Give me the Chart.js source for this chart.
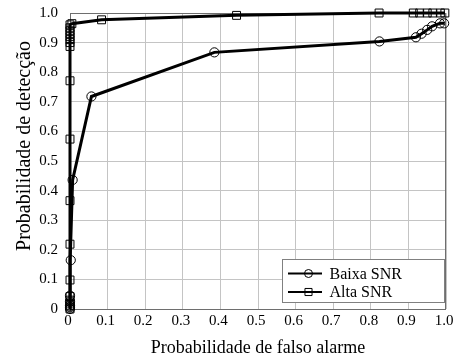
<!DOCTYPE html>
<html>
<head>
<meta charset="utf-8">
<script src="https://cdn.jsdelivr.net/npm/chart.js@4.4.0/dist/chart.umd.min.js"></script>
<style>
html,body{margin:0;padding:0;background:#fff;}
#wrap{width:456px;height:357px;}
</style>
</head>
<body>
<div id="wrap"><canvas id="c" width="456" height="357"></canvas></div>
<script>
const seriesNames = ["Baixa SNR", "Alta SNR"];
const baixaX = [0, 0, 0, 0, 0, 0.002, 0.007, 0.057, 0.384, 0.823, 0.92, 0.935, 0.95, 0.963, 0.984, 0.995];
const baixaY = [0, 0.006, 0.012, 0.025, 0.045, 0.165, 0.436, 0.718, 0.867, 0.904, 0.918, 0.93, 0.943, 0.955, 0.965, 0.965];
const altaX = [0, 0, 0, 0, 0, 0, 0, 0, 0, 0, 0, 0, 0, 0, 0, 0, 0, 0, 0.005, 0.084, 0.443, 0.822, 0.913, 0.93, 0.95, 0.965, 0.985, 0.997];
const altaY = [0, 0.01, 0.02, 0.03, 0.042, 0.098, 0.219, 0.366, 0.574, 0.771, 0.887, 0.9, 0.91, 0.92, 0.93, 0.94, 0.95, 0.96, 0.964, 0.977, 0.992, 1.0, 1.0, 1.0, 1.0, 1.0, 1.0, 1.0];
const tickValues = [0, 0.1, 0.2, 0.3, 0.4, 0.5, 0.6, 0.7, 0.8, 0.9, 1.0];
const tickLabels = ["0", "0.1", "0.2", "0.3", "0.4", "0.5", "0.6", "0.7", "0.8", "0.9", "1.0"];
const xTitle = "Probabilidade de falso alarme";
const yTitle = "Probabilidade de detecção";

const FONT = "'Liberation Serif', 'Times New Roman', serif";
const pts = (xs, ys) => xs.map((x, i) => ({x: x, y: ys[i]}));
const styles = ['circle', 'rect'];
const radii = [4.6, 5.6];

function tickCb(v) {
  const i = tickValues.findIndex(t => Math.abs(t - v) < 1e-6);
  return i >= 0 ? tickLabels[i] : '';
}

const framePlugin = {
  id: 'frame',
  beforeDatasetsDraw(chart) {
    const a = chart.chartArea, ctx = chart.ctx;
    ctx.save();
    ctx.strokeStyle = '#6e6e6e';
    ctx.lineWidth = 1;
    ctx.strokeRect(Math.round(a.left) + 0.5, Math.round(a.top) + 0.5, Math.round(a.right - a.left) - 1, Math.round(a.bottom - a.top));
    ctx.restore();
  },
  afterDraw(chart) {
    const ctx = chart.ctx;
    // y-axis title
    ctx.save();
    ctx.translate(25, 146);
    ctx.rotate(-Math.PI / 2);
    ctx.font = "20px " + FONT;
    ctx.fillStyle = '#000';
    ctx.textAlign = 'center';
    ctx.textBaseline = 'middle';
    ctx.fillText(yTitle, 0, 0);
    ctx.restore();
    // legend
    const bx = 282.5, by = 259.5, bw = 162, bh = 43;
    ctx.save();
    ctx.fillStyle = '#fff';
    ctx.fillRect(bx, by, bw, bh);
    ctx.strokeStyle = '#808080';
    ctx.lineWidth = 1;
    ctx.strokeRect(bx, by, bw, bh);
    ctx.font = "16px " + FONT;
    ctx.textBaseline = 'middle';
    ctx.textAlign = 'left';
    seriesNames.forEach((name, i) => {
      const yy = 273.5 + i * 18.5;
      ctx.strokeStyle = '#000';
      ctx.lineWidth = 2;
      ctx.beginPath();
      ctx.moveTo(288, yy);
      ctx.lineTo(322, yy);
      ctx.stroke();
      ctx.fillStyle = 'rgba(0,0,0,0)';
      ctx.lineWidth = 1;
      Chart.helpers.drawPoint(ctx, {pointStyle: styles[i], radius: radii[i] - 0.6, borderWidth: 1}, 308.5, yy);
      ctx.fillStyle = '#000';
      ctx.fillText(name, 329.5, yy + 1);
    });
    ctx.restore();
  }
};

new Chart(document.getElementById('c'), {
  type: 'scatter',
  data: {
    datasets: [
      {label: seriesNames[0], data: pts(baixaX, baixaY)},
      {label: seriesNames[1], data: pts(altaX, altaY)}
    ].map((d, i) => Object.assign(d, {
      showLine: true,
      borderColor: '#000',
      borderWidth: 3,
      pointStyle: styles[i],
      pointRadius: radii[i],
      pointBorderWidth: 1,
      pointBorderColor: '#000',
      pointBackgroundColor: 'rgba(0,0,0,0)',
      pointHoverRadius: radii[i],
      clip: false,
      tension: 0
    }))
  },
  options: {
    responsive: false,
    animation: false,
    events: [],
    layout: {padding: {left: 0, right: 10, top: 13, bottom: 0}},
    plugins: {legend: {display: false}, tooltip: {enabled: false}},
    scales: {
      x: {
        type: 'linear', min: 0, max: 1,
        afterBuildTicks: s => { s.ticks = tickValues.map(v => ({value: v})); },
        afterFit: s => { s.height = 48; s.paddingLeft = 0; s.paddingRight = 0; },
        ticks: {callback: tickCb, color: '#000', font: {family: FONT, size: 15}, padding: 3, labelOffset: -2, maxRotation: 0},
        grid: {color: '#c4c4c4', lineWidth: 1, drawTicks: false},
        border: {display: false},
        title: {display: true, text: xTitle, color: '#000', font: {family: FONT, size: 18, lineHeight: 1}, padding: {top: 2, bottom: 0}}
      },
      y: {
        type: 'linear', min: 0, max: 1,
        afterBuildTicks: s => { s.ticks = tickValues.map(v => ({value: v})); },
        afterFit: s => { s.width = 70; s.paddingTop = 0; s.paddingBottom = 0; },
        ticks: {callback: tickCb, color: '#000', font: {family: FONT, size: 15}, padding: 12},
        grid: {color: '#c4c4c4', lineWidth: 1, drawTicks: false},
        border: {display: false},
        title: {display: false}
      }
    }
  },
  plugins: [framePlugin]
});
</script>
</body>
</html>
